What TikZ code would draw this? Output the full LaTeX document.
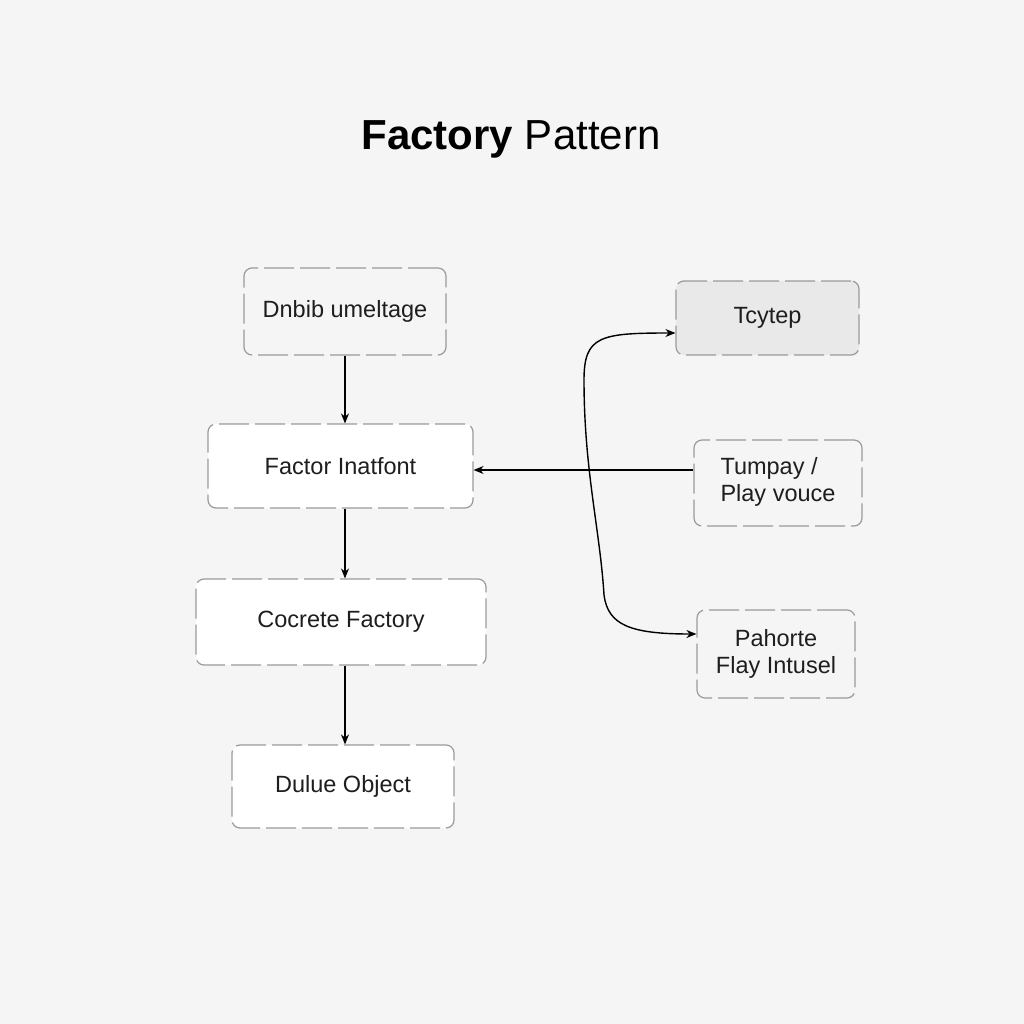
\documentclass[tikz,border=0pt]{standalone}
\usepackage{fontspec}
\setmainfont{Liberation Sans}
\usetikzlibrary{arrows.meta}
\definecolor{bg}{HTML}{F4F5F4}
\definecolor{boxline}{HTML}{9A9A9A}
\definecolor{grayfill}{HTML}{E9E9E9}
\definecolor{txt}{HTML}{1E1E1E}
\begin{document}
\begin{tikzpicture}[x=1pt,y=-1pt,
  box/.style={draw=boxline, line width=1.2pt, dash pattern=on 30pt off 6pt, rounded corners=8pt,
    text=txt, font=\fontsize{23.5}{27}\selectfont, align=center, inner sep=0pt},
  conn/.style={line width=1.4pt, black, -{Stealth[length=10pt,width=8pt]}}]
\fill[bg] (0,0) rectangle (1024,1024);
\useasboundingbox (0,0) rectangle (1024,1024);
\node (title) at (511,139) {\fontsize{42}{46}\selectfont\textbf{Factory} Pattern};
\node[box, fill=bg, minimum width=202pt, minimum height=87pt] (b1) at (345,311.5) {Dnbib umeltage};
\node[box, fill=white, minimum width=265pt, minimum height=84pt] (b2) at (340.5,466) {Factor Inatfont};
\node[box, fill=white, minimum width=290pt, minimum height=86pt] (b3) at (341,622) {Cocrete Factory};
\node[box, fill=white, minimum width=222pt, minimum height=83pt] (b4) at (343,786.5) {Dulue Object};
\node[box, fill=grayfill, minimum width=183pt, minimum height=74pt] (b5) at (767.5,318) {Tcytep};
\node[box, fill=bg, minimum width=168pt, minimum height=86pt] (b6) at (778,483) {\begin{tabular}{@{}l@{}}Tumpay /\\Play vouce\end{tabular}};
\node[box, fill=bg, minimum width=158pt, minimum height=88pt] (b7) at (776,654) {Pahorte\\Flay Intusel};
\draw[conn] (b1.south -| 345,0) -- (b2.north -| 345,0);
\draw[conn] (b2.south -| 345,0) -- (b3.north -| 345,0);
\draw[conn] (b3.south -| 345,0) -- (b4.north -| 345,0);
\draw[conn] (b6.west |- 0,470) -- (b2.east |- 0,470);
\coordinate (c1) at (584,380);
\coordinate (c2) at (604,595);
\draw[line width=1.4pt, {Stealth[length=10pt,width=8pt]}-{Stealth[length=10pt,width=8pt]}]
  (b5.west |- 0,333) .. controls (600,333) and (584,336) .. (c1)
  .. controls (584,470) and (600,530) .. (c2)
  .. controls (608,625) and (630,634) .. (b7.west |- 0,634);
\end{tikzpicture}
\end{document}
